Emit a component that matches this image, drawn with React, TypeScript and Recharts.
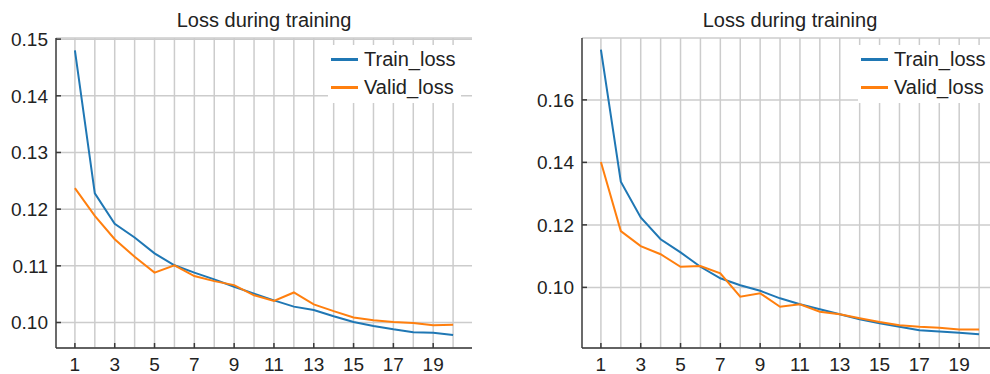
import React from 'react';
import { LineChart, Line, XAxis, YAxis, CartesianGrid, ReferenceLine, Legend } from 'recharts';

const epochs = [1, 2, 3, 4, 5, 6, 7, 8, 9, 10, 11, 12, 13, 14, 15, 16, 17, 18, 19, 20];
const xTickLabels = [1, 3, 5, 7, 9, 11, 13, 15, 17, 19];

const leftTrainLoss = [0.148, 0.1228, 0.1174, 0.115, 0.1122, 0.1101, 0.1088, 0.1076, 0.1063, 0.1051, 0.1039, 0.1028, 0.1022, 0.1011, 0.1001, 0.0994, 0.0988, 0.0983, 0.0982, 0.0978];
const leftValidLoss = [0.1237, 0.1188, 0.1147, 0.1116, 0.1088, 0.1101, 0.1082, 0.1073, 0.1066, 0.1048, 0.1038, 0.1053, 0.1032, 0.102, 0.1009, 0.1004, 0.1001, 0.0999, 0.0995, 0.0996];
const rightTrainLoss = [0.1761, 0.1338, 0.1224, 0.1154, 0.1112, 0.1066, 0.1029, 0.1007, 0.0989, 0.0965, 0.0946, 0.093, 0.0914, 0.0898, 0.0885, 0.0874, 0.0863, 0.0859, 0.0855, 0.085];
const rightValidLoss = [0.1401, 0.118, 0.1132, 0.1106, 0.1066, 0.1068, 0.1045, 0.097, 0.0981, 0.0938, 0.0946, 0.0922, 0.0914, 0.0901, 0.0889, 0.0879, 0.0874, 0.0871, 0.0865, 0.0865];

const leftYTicks = [0.1, 0.11, 0.12, 0.13, 0.14, 0.15];
const rightYTicks = [0.1, 0.12, 0.14, 0.16];
const leftYDomain = [0.0955, 0.1502];
const rightYDomain = [0.0806, 0.1798];
const xDomain = [0.05, 20.95];

const chartTitle = 'Loss during training';
const trainName = 'Train_loss';
const validName = 'Valid_loss';

const BLUE = '#1f77b4';
const ORANGE = '#ff7f0e';
const GRID = '#cccccc';
const SPINE = '#3a3a3a';
const TEXT = '#222222';
const FONT = '"Liberation Sans", Arial, Helvetica, sans-serif';

const buildRows = (train: number[], valid: number[]) =>
  epochs.map((e, i) => ({ epoch: e, train: train[i], valid: valid[i] }));

const LegendBox = (props: any) => {
  const payload = props.payload || [];
  return (
    <div style={{ background: '#fff', paddingLeft: 3, paddingRight: 5, paddingBottom: 2, fontFamily: FONT, fontSize: 20 }}>
      {payload.map((p: any) => (
        <div key={p.value} style={{ display: 'flex', alignItems: 'center', height: 28 }}>
          <span style={{ display: 'inline-block', width: 27, height: 3, background: p.color, marginRight: 6 }} />
          <span style={{ color: TEXT, lineHeight: 1, whiteSpace: 'nowrap' }}>{p.value}</span>
        </div>
      ))}
    </div>
  );
};

const LossChart = ({ left, train, valid, yDomain, yTicks, legendLeft }: any) => {
  const rows = buildRows(train, valid);
  return (
    <div style={{ position: 'absolute', left, top: 0, width: 480, height: 374 }}>
      <div
        style={{
          position: 'absolute',
          left: 56,
          width: 416,
          top: 10,
          textAlign: 'center',
          fontFamily: FONT,
          fontSize: 20,
          lineHeight: 1,
          color: TEXT,
        }}
      >
        {chartTitle}
      </div>
      <LineChart width={480} height={374} data={rows} margin={{ top: 38, right: 8, bottom: 0, left: 0 }}>
        <CartesianGrid vertical={false} stroke={GRID} strokeWidth={1.5} />
        {epochs.map((e) => (
          <ReferenceLine key={e} x={e} stroke={GRID} strokeWidth={1.5} />
        ))}
        <XAxis
          dataKey="epoch"
          type="number"
          domain={xDomain}
          ticks={xTickLabels}
          allowDataOverflow
          height={26}
          tickSize={-5}
          tickMargin={15}
          axisLine={{ stroke: SPINE, strokeWidth: 1.5 }}
          tickLine={{ stroke: SPINE, strokeWidth: 1.5 }}
          tick={{ fill: TEXT, fontSize: 19, fontFamily: FONT }}
          interval={0}
        />
        <XAxis
          xAxisId="top"
          orientation="top"
          type="number"
          domain={xDomain}
          height={0}
          tick={false}
          tickLine={false}
          axisLine={{ stroke: SPINE, strokeWidth: 1.5 }}
        />
        <YAxis
          type="number"
          domain={yDomain}
          ticks={yTicks}
          allowDataOverflow
          width={56}
          tickSize={-5}
          tickMargin={13}
          interval={0}
          tickFormatter={(v: number) => v.toFixed(2)}
          axisLine={{ stroke: SPINE, strokeWidth: 1.5 }}
          tickLine={{ stroke: SPINE, strokeWidth: 1.5 }}
          tick={{ fill: TEXT, fontSize: 19, fontFamily: FONT }}
        />
        <YAxis
          yAxisId="right"
          orientation="right"
          type="number"
          domain={yDomain}
          width={0}
          tick={false}
          tickLine={false}
          axisLine={{ stroke: SPINE, strokeWidth: 1.5 }}
        />
        <Line
          type="linear"
          dataKey="train"
          name={trainName}
          stroke={BLUE}
          strokeWidth={2}
          dot={false}
          activeDot={false}
          isAnimationActive={false}
        />
        <Line
          type="linear"
          dataKey="valid"
          name={validName}
          stroke={ORANGE}
          strokeWidth={2}
          dot={false}
          activeDot={false}
          isAnimationActive={false}
        />
        <Legend
          layout="horizontal"
          verticalAlign="middle"
          align="center"
          content={<LegendBox />}
          wrapperStyle={{ top: 45, left: legendLeft, width: 'auto', height: 'auto' }}
        />
      </LineChart>
    </div>
  );
};

export default function App() {
  return (
    <div style={{ position: 'fixed', left: 0, top: 0, width: 990, height: 374, overflow: 'hidden', background: '#fff' }}>
      <LossChart left={0} train={leftTrainLoss} valid={leftValidLoss} yDomain={leftYDomain} yTicks={leftYTicks} legendLeft={328} />
      <LossChart left={526} train={rightTrainLoss} valid={rightValidLoss} yDomain={rightYDomain} yTicks={rightYTicks} legendLeft={332} />
    </div>
  );
}
